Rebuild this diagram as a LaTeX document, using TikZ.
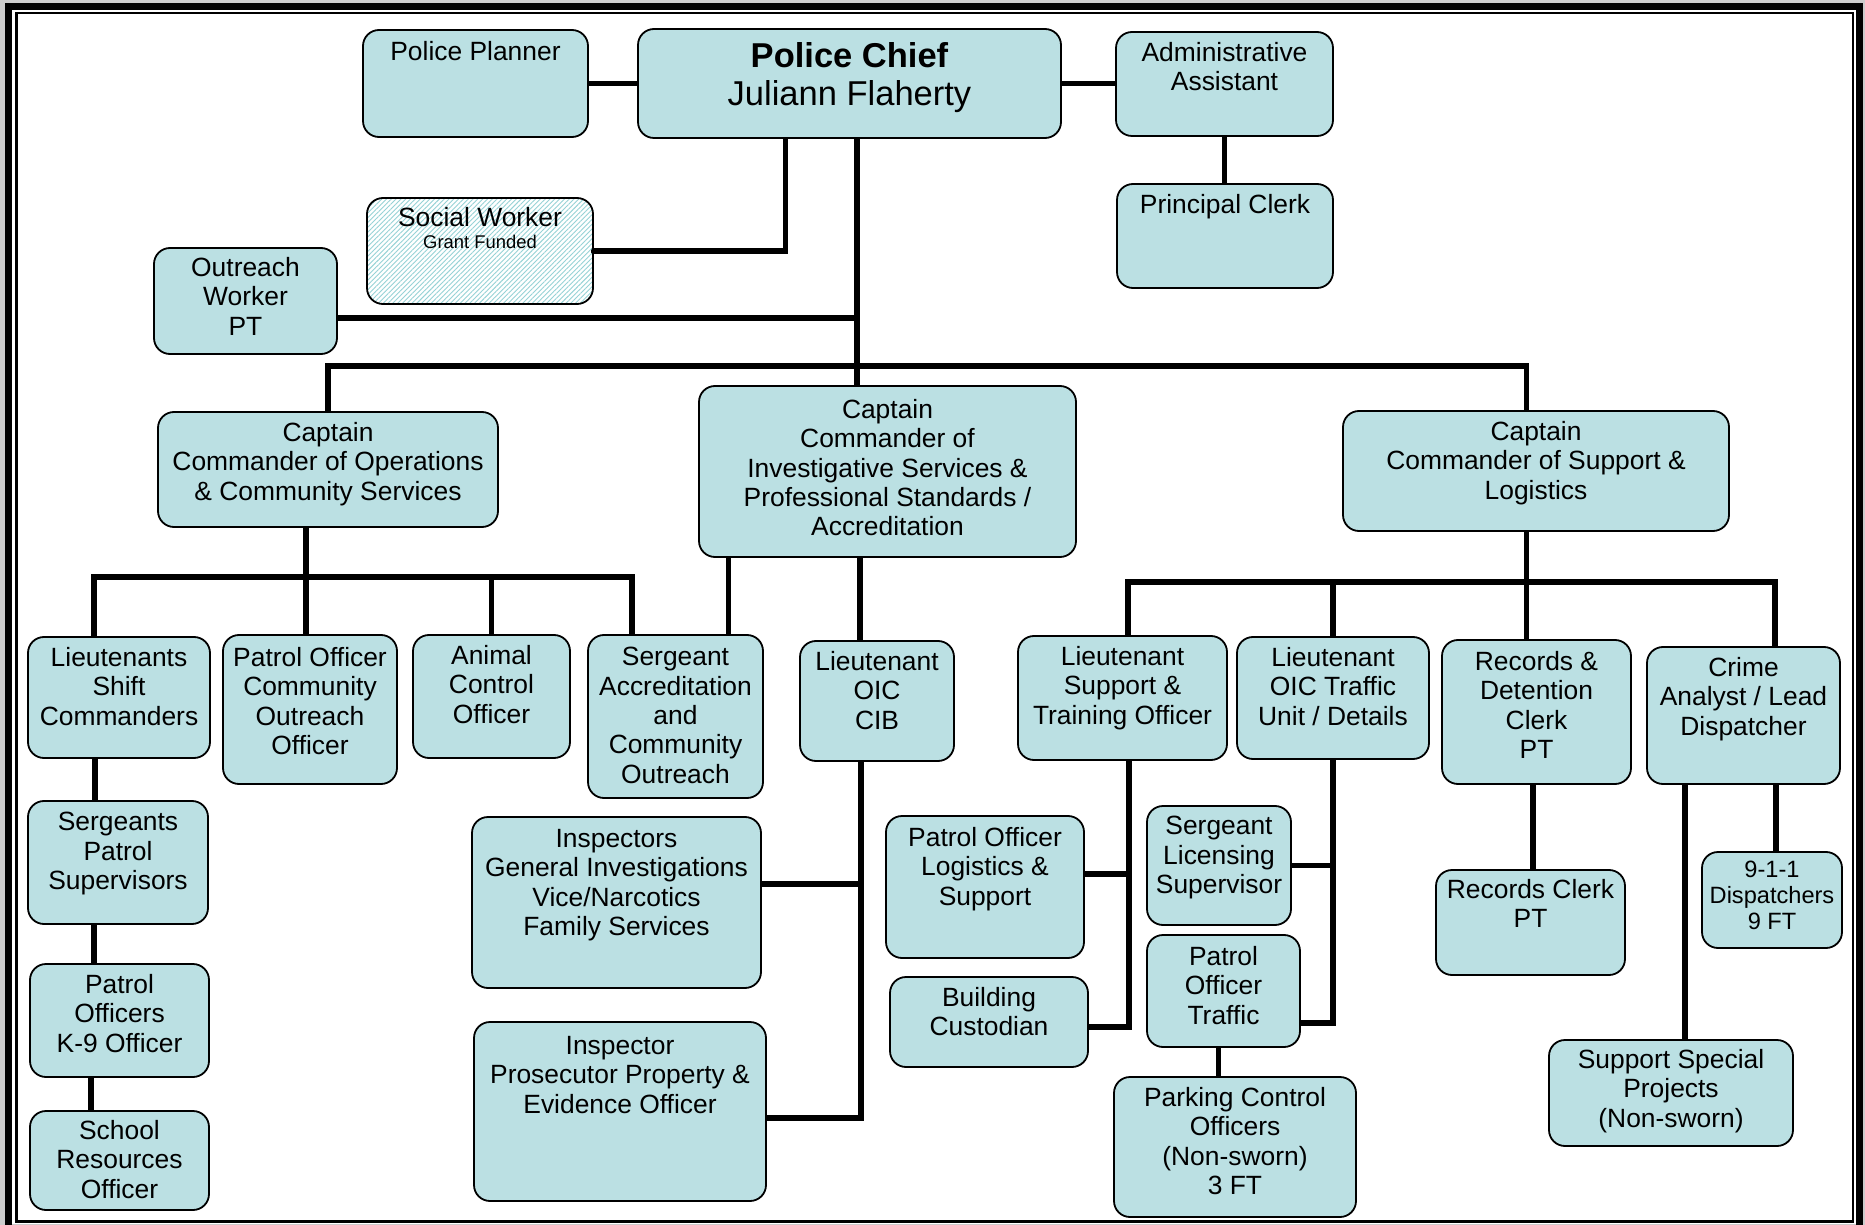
\documentclass[tikz,border=0pt]{standalone}
\usepackage{fontspec}
\setmainfont{Liberation Sans}
\usetikzlibrary{fit,backgrounds,patterns.meta}
\definecolor{boxfill}{RGB}{187,224,227}
\definecolor{hatch}{RGB}{150,210,214}
\definecolor{framegray}{RGB}{204,204,204}
\tikzset{
 box/.style={draw=black, line width=0.9pt, fill=boxfill, rounded corners=8pt, inner sep=0pt},
 hbox/.style={draw=black, line width=0.9pt, rounded corners=8pt, inner sep=0pt,
   pattern={Lines[angle=45,distance=1.7pt,line width=0.45pt]}, pattern color=hatch},
 lbl/.style={align=center, inner sep=0pt, anchor=north, font=\fontsize{13.2}{14.65}\selectfont},
 conn/.style={line width=2.7pt, line cap=rect, line join=miter},
}
% #1 name, #2 x1, #3 y1, #4 x2, #5 y2, #6 centre of first text line, #7 text
\newcommand\orgbox[7]{%
  \node[box, fit={(#2,#3) (#4,#5)}] (#1) {};
  \node[lbl] (#1-t) at ({(#2+#4)/2},{#6-11}) {#7};
}
\begin{document}
\begin{tikzpicture}[x=0.5pt,y=-0.5pt]
\useasboundingbox (0,0) rectangle (1865,1225);

% ---------- boxes ----------
\orgbox{planner}{363}{30}{588}{137}{52}{Police Planner}
\node[box, fit={(638,29) (1061,138)}] (chief) {};
\node[lbl, font=\fontsize{17.25}{19}\selectfont] (chief-t) at (849.5,42) {\textbf{Police Chief}\\Juliann Flaherty};
\orgbox{admin}{1116}{32}{1333}{136}{53}{Administrative\\Assistant}
\orgbox{pclerk}{1117}{184}{1333}{288}{205}{Principal Clerk}
\node[hbox, fit={(367,198) (593,304)}] (social) {};
\node[lbl] (social-t) at (480,207) {Social Worker\\[-3.6pt]{\fontsize{9.2}{11}\selectfont Grant Funded}};
\orgbox{outreach}{154}{248}{337}{354}{268}{Outreach\\Worker\\PT}
\orgbox{capops}{158}{412}{498}{527}{433}{Captain\\Commander of Operations\\\& Community Services}
\orgbox{capinv}{699}{386}{1076}{557}{410}{Captain\\Commander of\\Investigative Services \&\\Professional Standards /\\Accreditation}
\orgbox{capsup}{1343}{411}{1729}{531}{432}{Captain\\Commander of Support \&\\Logistics}
\orgbox{ltshift}{28}{637}{210}{758}{658}{Lieutenants\\Shift\\Commanders}
\orgbox{poco}{223}{635}{397}{784}{658}{Patrol Officer\\Community\\Outreach\\Officer}
\orgbox{animal}{413}{635}{570}{758}{656}{Animal\\Control\\Officer}
\orgbox{sgtacc}{588}{635}{763}{798}{658}{Sergeant\\Accreditation\\and\\Community\\Outreach}
\orgbox{ltcib}{800}{641}{954}{761}{662}{Lieutenant\\OIC\\CIB}
\orgbox{ltsup}{1018}{636}{1227}{760}{657}{Lieutenant\\Support \&\\Training Officer}
\orgbox{lttraf}{1237}{637}{1429}{759}{658}{Lieutenant\\OIC Traffic\\Unit / Details}
\orgbox{records}{1442}{640}{1631}{784}{662}{Records \&\\Detention\\Clerk\\PT}
\orgbox{crime}{1647}{647}{1840}{784}{668}{Crime\\Analyst / Lead\\Dispatcher}
\orgbox{sgts}{28}{801}{208}{924}{823}{Sergeants\\Patrol\\Supervisors}
\orgbox{k9}{30}{964}{209}{1077}{985}{Patrol\\Officers\\K-9 Officer}
\orgbox{school}{30}{1111}{209}{1210}{1131}{School\\Resources\\Officer}
\orgbox{insp}{472}{817}{761}{988}{840}{Inspectors\\General Investigations\\Vice/Narcotics\\Family Services}
\orgbox{pros}{474}{1022}{766}{1201}{1047}{Inspector\\Prosecutor Property \&\\Evidence Officer}
\orgbox{logi}{886}{816}{1084}{958}{838}{Patrol Officer\\Logistics \&\\Support}
\orgbox{bldg}{890}{977}{1088}{1067}{998}{Building\\Custodian}
\orgbox{lic}{1147}{806}{1291}{925}{827}{Sergeant\\Licensing\\Supervisor}
\orgbox{ptraf}{1147}{935}{1300}{1047}{957}{Patrol\\Officer\\Traffic}
\orgbox{parking}{1114}{1077}{1356}{1217}{1098}{Parking Control\\Officers\\(Non-sworn)\\3 FT}
\orgbox{recclerk}{1436}{870}{1625}{975}{890}{Records Clerk\\PT}
\node[box, fit={(1702,852) (1842,948)}] (disp) {};
\node[lbl, font=\fontsize{11.8}{13}\selectfont] (disp-t) at (1772,861) {9-1-1\\Dispatchers\\9 FT};
\orgbox{special}{1549}{1040}{1793}{1146}{1060}{Support Special\\Projects\\(Non-sworn)}

% ---------- junction coordinates ----------
\coordinate (trunk) at (857,366);
\coordinate (swj) at ([xshift=-32pt]chief.south);
\coordinate (ow) at ([yshift=-8.5pt]outreach.east);
\coordinate (csd) at ([xshift=-4.75pt]capsup.north);
\coordinate (b1) at (306,577);
\coordinate (ltd) at ([xshift=-12.5pt]ltshift.north);
\coordinate (sgd1) at ([xshift=-21.75pt]sgtacc.north);
\coordinate (sgd2) at ([xshift=26.5pt]sgtacc.north);
\coordinate (cibd) at ([xshift=-8.5pt]ltcib.north);
\coordinate (cibx) at ([xshift=-8pt]ltcib.south);
\coordinate (prr) at ([yshift=-3.25pt]pros.east);
\coordinate (inr) at ([yshift=9.25pt]insp.east);
\coordinate (b2) at (1526.5,582);
\coordinate (lsd) at ([xshift=2.75pt]ltsup.north);
\coordinate (crd) at ([xshift=15.75pt]crime.north);
\coordinate (lsx) at ([xshift=3.25pt]ltsup.south);
\coordinate (lgr) at ([yshift=6.5pt]logi.east);
\coordinate (bdr) at ([yshift=-2.5pt]bldg.east);
\coordinate (ptr) at ([yshift=-16pt]ptraf.east);
\coordinate (ptd) at ([xshift=-2.5pt]ptraf.south);
\coordinate (rcd) at ([xshift=-1.75pt]records.south);
\coordinate (csp) at ([xshift=-29.25pt]crime.south);
\coordinate (cdd) at ([xshift=16.25pt]crime.south);
\coordinate (l2s) at ([xshift=-12pt]ltshift.south);
\coordinate (s2k) at ([xshift=-12pt]sgts.south);
\coordinate (k2s) at ([xshift=-14.25pt]k9.south);

\begin{scope}[on background layer]
% frame
\fill[framegray] (0,0) rectangle (1865,1225);
\draw[line width=3.5pt] (8,6.5) rectangle (1859,1232);
\fill[white] (11.5,10) rectangle (1855.5,1223.5);
\draw[line width=1.2pt] (16.5,13) rectangle (1853,1221.5);

% connectors
\draw[conn] (planner.east) -- (chief.west);
\draw[conn] (chief.east) -- (chief.east -| admin.west);
\draw[conn] (admin.south) -- (admin.south |- pclerk.north);
\draw[conn] (swj) |- (social.east);
\draw[conn] (chief.south -| trunk) -- (capinv.north -| trunk);
\draw[conn] (ow) -- (ow -| trunk);
\draw[conn] (capops.north) |- (csd |- trunk) -- (csd);

\draw[conn] (capops.south -| b1) -- (b1);
\draw[conn] (ltd) |- (sgd1 |- b1) -- (sgd1);
\draw[conn] (poco.north -| b1) -- (b1);
\draw[conn] (animal.north) -- (animal.north |- b1);
\draw[conn] (sgd2) -- (sgd2 |- capinv.south);
\draw[conn] (cibd) -- (cibd |- capinv.south);
\draw[conn] (cibx) |- (prr);
\draw[conn] (inr) -- (inr -| cibx);

\draw[conn] (capsup.south -| b2) -- (b2);
\draw[conn] (lsd) |- (crd |- b2) -- (crd);
\draw[conn] (lttraf.north) -- (lttraf.north |- b2);
\draw[conn] (records.north -| b2) -- (b2);
\draw[conn] (lsx) |- (bdr);
\draw[conn] (lgr) -- (lgr -| lsx);
\draw[conn] (lttraf.south) |- (ptr);
\draw[conn] (lic.east) -- (lic.east -| lttraf.south);
\draw[conn] (ptd) -- (ptd |- parking.north);
\draw[conn] (rcd) -- (rcd |- recclerk.north);
\draw[conn] (csp) -- (csp |- special.north);
\draw[conn] (cdd) -- (cdd |- disp.north);

\draw[conn] (l2s) -- (l2s |- sgts.north);
\draw[conn] (s2k) -- (s2k |- k9.north);
\draw[conn] (k2s) -- (k2s |- school.north);
\end{scope}
\end{tikzpicture}
\end{document}
